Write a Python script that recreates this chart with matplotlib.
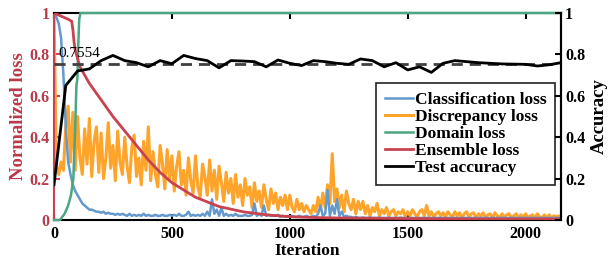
import numpy as np
import matplotlib
matplotlib.use('Agg')
import matplotlib.pyplot as plt

plt.rcParams['font.family'] = ['Liberation Serif', 'DejaVu Serif']
plt.rcParams['font.weight'] = 'bold'
plt.rcParams['axes.labelweight'] = 'bold'

# ── 颜色 ─────────────────────────────────────────────
C_CLS = '#6399cc'
C_DIS = '#ffa42a'
C_DOM = '#4aa683'
C_ENS = '#c8434f'
C_LBL = '#b93a4a'

# ── 数据───────────────────────────────────
# 每 10 次迭代一个采样点
step_iters = np.arange(0, 2160, 10)

discrepancy_loss = [
    1.00, 0.26, 0.22, 0.28, 0.24, 0.45, 0.55, 0.28, 0.52, 0.24,
    0.50, 0.30, 0.22, 0.44, 0.27, 0.49, 0.21, 0.38, 0.45, 0.23,
    0.42, 0.20, 0.30, 0.47, 0.25, 0.36, 0.19, 0.43, 0.28, 0.22,
    0.40, 0.26, 0.18, 0.35, 0.41, 0.21, 0.30, 0.17, 0.38, 0.24,
    0.45, 0.19, 0.33, 0.22, 0.16, 0.36, 0.27, 0.15, 0.34, 0.20,
    0.31, 0.14, 0.26, 0.33, 0.17, 0.24, 0.12, 0.30, 0.19, 0.13,
    0.31, 0.16, 0.11, 0.27, 0.21, 0.12, 0.29, 0.14, 0.24, 0.10,
    0.26, 0.18, 0.09, 0.23, 0.13, 0.20, 0.08, 0.22, 0.11, 0.17,
    0.07, 0.20, 0.12, 0.16, 0.06, 0.18, 0.09, 0.14, 0.06, 0.17,
    0.10, 0.05, 0.15, 0.08, 0.13, 0.05, 0.11, 0.07, 0.12, 0.05,
    0.12, 0.06, 0.04, 0.10, 0.05, 0.08, 0.04, 0.07, 0.05, 0.03,
    0.07, 0.04, 0.11, 0.05, 0.13, 0.06, 0.17, 0.08, 0.32, 0.09,
    0.15, 0.06, 0.12, 0.04, 0.14, 0.08, 0.05, 0.10, 0.03, 0.09,
    0.05, 0.09, 0.03, 0.07, 0.02, 0.06, 0.04, 0.08, 0.02, 0.05,
    0.03, 0.06, 0.02, 0.04, 0.05, 0.02, 0.04, 0.03, 0.05, 0.015,
    0.04, 0.02, 0.05, 0.03, 0.015, 0.04, 0.05, 0.02, 0.07, 0.02,
    0.04, 0.015, 0.03, 0.04, 0.02, 0.035, 0.015, 0.04, 0.025, 0.015,
    0.04, 0.02, 0.035, 0.01, 0.03, 0.04, 0.015, 0.03, 0.035, 0.01,
    0.03, 0.02, 0.035, 0.01, 0.025, 0.03, 0.01, 0.035, 0.02, 0.01,
    0.03, 0.015, 0.025, 0.03, 0.01, 0.02, 0.03, 0.01, 0.025, 0.015,
    0.03, 0.01, 0.02, 0.025, 0.01, 0.03, 0.015, 0.01, 0.025, 0.01,
    0.025, 0.01, 0.02, 0.015, 0.02, 0.015,
]

classification_loss = [
    1.00, 0.98, 0.95, 0.88, 0.70, 0.45, 0.28, 0.22, 0.17, 0.14,
    0.12, 0.10, 0.08, 0.07, 0.06, 0.05, 0.05, 0.045, 0.04, 0.04,
    0.035, 0.04, 0.03, 0.035, 0.03, 0.03, 0.025, 0.03, 0.025, 0.03,
    0.025, 0.02, 0.03, 0.02, 0.025, 0.02, 0.025, 0.02, 0.03, 0.02,
    0.025, 0.02, 0.02, 0.025, 0.02, 0.02, 0.025, 0.02, 0.02, 0.025,
    0.02, 0.025, 0.02, 0.03, 0.02, 0.02, 0.025, 0.04, 0.02, 0.025,
    0.02, 0.025, 0.02, 0.03, 0.02, 0.04, 0.02, 0.10, 0.03, 0.05,
    0.02, 0.06, 0.02, 0.03, 0.02, 0.025, 0.02, 0.03, 0.02, 0.02,
    0.02, 0.025, 0.02, 0.02, 0.025, 0.08, 0.02, 0.03, 0.02, 0.07,
    0.02, 0.025, 0.02, 0.02, 0.02, 0.025, 0.015, 0.02, 0.015, 0.02,
    0.015, 0.02, 0.015, 0.015, 0.02, 0.015, 0.015, 0.02, 0.015, 0.015,
    0.02, 0.015, 0.03, 0.07, 0.02, 0.03, 0.145, 0.02, 0.07, 0.03,
    0.10, 0.02, 0.04, 0.015, 0.02, 0.015, 0.015, 0.01, 0.015, 0.01,
    0.01, 0.012, 0.01, 0.01, 0.012, 0.01, 0.01, 0.01, 0.012, 0.01,
    0.01, 0.01, 0.012, 0.01, 0.01, 0.01, 0.01, 0.012, 0.01, 0.01,
    0.01, 0.01, 0.01, 0.01, 0.01, 0.01, 0.01, 0.01, 0.01, 0.01,
    0.01, 0.01, 0.01, 0.01, 0.01, 0.01, 0.01, 0.01, 0.01, 0.01,
    0.01, 0.01, 0.01, 0.01, 0.01, 0.01, 0.01, 0.01, 0.01, 0.01,
    0.01, 0.01, 0.01, 0.01, 0.01, 0.01, 0.01, 0.01, 0.01, 0.01,
    0.01, 0.01, 0.01, 0.01, 0.01, 0.01, 0.01, 0.01, 0.01, 0.01,
    0.01, 0.01, 0.01, 0.01, 0.01, 0.01, 0.01, 0.01, 0.01, 0.01,
    0.01, 0.01, 0.01, 0.01, 0.01, 0.01,
]

domain_iters = [0, 25, 45, 60, 72, 82, 90, 95, 99, 103, 107, 112, 2150]
domain_loss = [0.0, 0.0, 0.03, 0.07, 0.12, 0.20, 0.45, 0.65, 0.68, 0.85,
               0.97, 1.0, 1.0]

ensemble_iters = [0, 20, 40, 60, 75, 80, 85, 90, 100, 110, 150, 200, 250,
                  300, 350, 400, 450, 500, 550, 600, 700, 800, 900, 1000,
                  1100, 1200, 1400, 1600, 1800, 2000, 2150]
ensemble_loss = [1.0, 0.99, 0.98, 0.97, 0.96, 0.92, 0.86, 0.82, 0.78, 0.74,
                 0.66, 0.58, 0.50, 0.43, 0.36, 0.29, 0.23, 0.18, 0.145, 0.11,
                 0.065, 0.04, 0.025, 0.016, 0.012, 0.010, 0.008, 0.006,
                 0.005, 0.005, 0.005]

acc_iters = np.arange(0, 2200, 50)
test_accuracy = [0.17, 0.65, 0.72, 0.73, 0.77, 0.795, 0.77, 0.76, 0.74, 0.77,
                 0.755, 0.795, 0.78, 0.77, 0.735, 0.77, 0.768, 0.765, 0.74,
                 0.773, 0.757, 0.746, 0.77, 0.765, 0.757, 0.752, 0.778, 0.77,
                 0.74, 0.76, 0.725, 0.74, 0.713, 0.757, 0.77, 0.765, 0.76,
                 0.757, 0.754, 0.753, 0.752, 0.744, 0.75, 0.76]

mean_acc = 0.7554

# ── 绘图 ─────────────────────────────────────────────
fig = plt.figure(figsize=(6.11, 2.67), dpi=100)
ax = fig.add_axes([54 / 611, 1 - 220 / 267, 507 / 611, 207 / 267])

l_dis, = ax.plot(step_iters, discrepancy_loss, color=C_DIS, lw=2.2,
                 label='Discrepancy loss')
l_cls, = ax.plot(step_iters, classification_loss, color=C_CLS, lw=1.8,
                 label='Classification loss')
l_dom, = ax.plot(domain_iters, domain_loss, color=C_DOM, lw=1.8,
                 label='Domain loss', zorder=3, clip_on=False)
l_ens, = ax.plot(ensemble_iters, ensemble_loss, color=C_ENS, lw=2.0,
                 label='Ensemble loss', zorder=3)
ax.axhline(mean_acc, color='#404040', lw=2.0, ls=(0, (4, 2.5)), zorder=3.5)
l_acc, = ax.plot(acc_iters, test_accuracy, color='black', lw=2.0,
                 label='Test accuracy', zorder=4)
ax.text(20, 0.775, f'{mean_acc:.4f}', fontsize=11, fontweight='normal',
        ha='left', va='bottom', zorder=5)

ax.set_xlim(0, 2150)
ax.set_ylim(0, 1)
ax.set_xticks([0, 500, 1000, 1500, 2000])
ax.set_yticks([0, 0.2, 0.4, 0.6, 0.8, 1])
ax.set_yticklabels(['0', '0.2', '0.4', '0.6', '0.8', '1'])
ax.tick_params(axis='x', direction='in', length=4, width=1.5,
               top=True, labelsize=11.5, pad=4)
ax.tick_params(axis='y', direction='in', length=4, width=1.5,
               colors=C_ENS, labelcolor=C_LBL, labelsize=11.5, pad=3)
for lab in ax.get_xticklabels() + ax.get_yticklabels():
    lab.set_fontweight('bold')
ax.set_xlabel('Iteration', fontsize=12.5, labelpad=1)
ax.set_ylabel('Normalized loss', fontsize=13.5, color=C_LBL, labelpad=2)
for s in ['top', 'bottom', 'right']:
    ax.spines[s].set_color('black')
    ax.spines[s].set_linewidth(1.5)
ax.spines['left'].set_color(C_ENS)
ax.spines['left'].set_linewidth(1.5)

ax2 = ax.twinx()
ax2.set_ylim(0, 1)
ax2.set_yticks([0, 0.2, 0.4, 0.6, 0.8, 1])
ax2.set_yticklabels(['0', '0.2', '0.4', '0.6', '0.8', '1'])
ax2.tick_params(axis='y', direction='in', length=4, width=1.5,
                colors='black', labelsize=11.5, pad=3)
for lab in ax2.get_yticklabels():
    lab.set_fontweight('bold')
for s in ['top', 'bottom', 'left']:
    ax2.spines[s].set_visible(False)
ax2.spines['right'].set_linewidth(1.5)
ax2.set_ylabel('Accuracy', fontsize=13.5, labelpad=4)

leg = ax.legend(handles=[l_cls, l_dis, l_dom, l_ens, l_acc],
                loc='upper right', bbox_to_anchor=(0.988, 0.662),
                borderaxespad=0, prop={'weight': 'bold', 'size': 12.5},
                handlelength=1.6, handletextpad=0.1, labelspacing=0.05,
                borderpad=0.5, fancybox=False, framealpha=1,
                edgecolor='#222222')
leg.get_frame().set_linewidth(1.2)
leg.set_zorder(10)

plt.savefig('out.png', dpi=100)
plt.close()
